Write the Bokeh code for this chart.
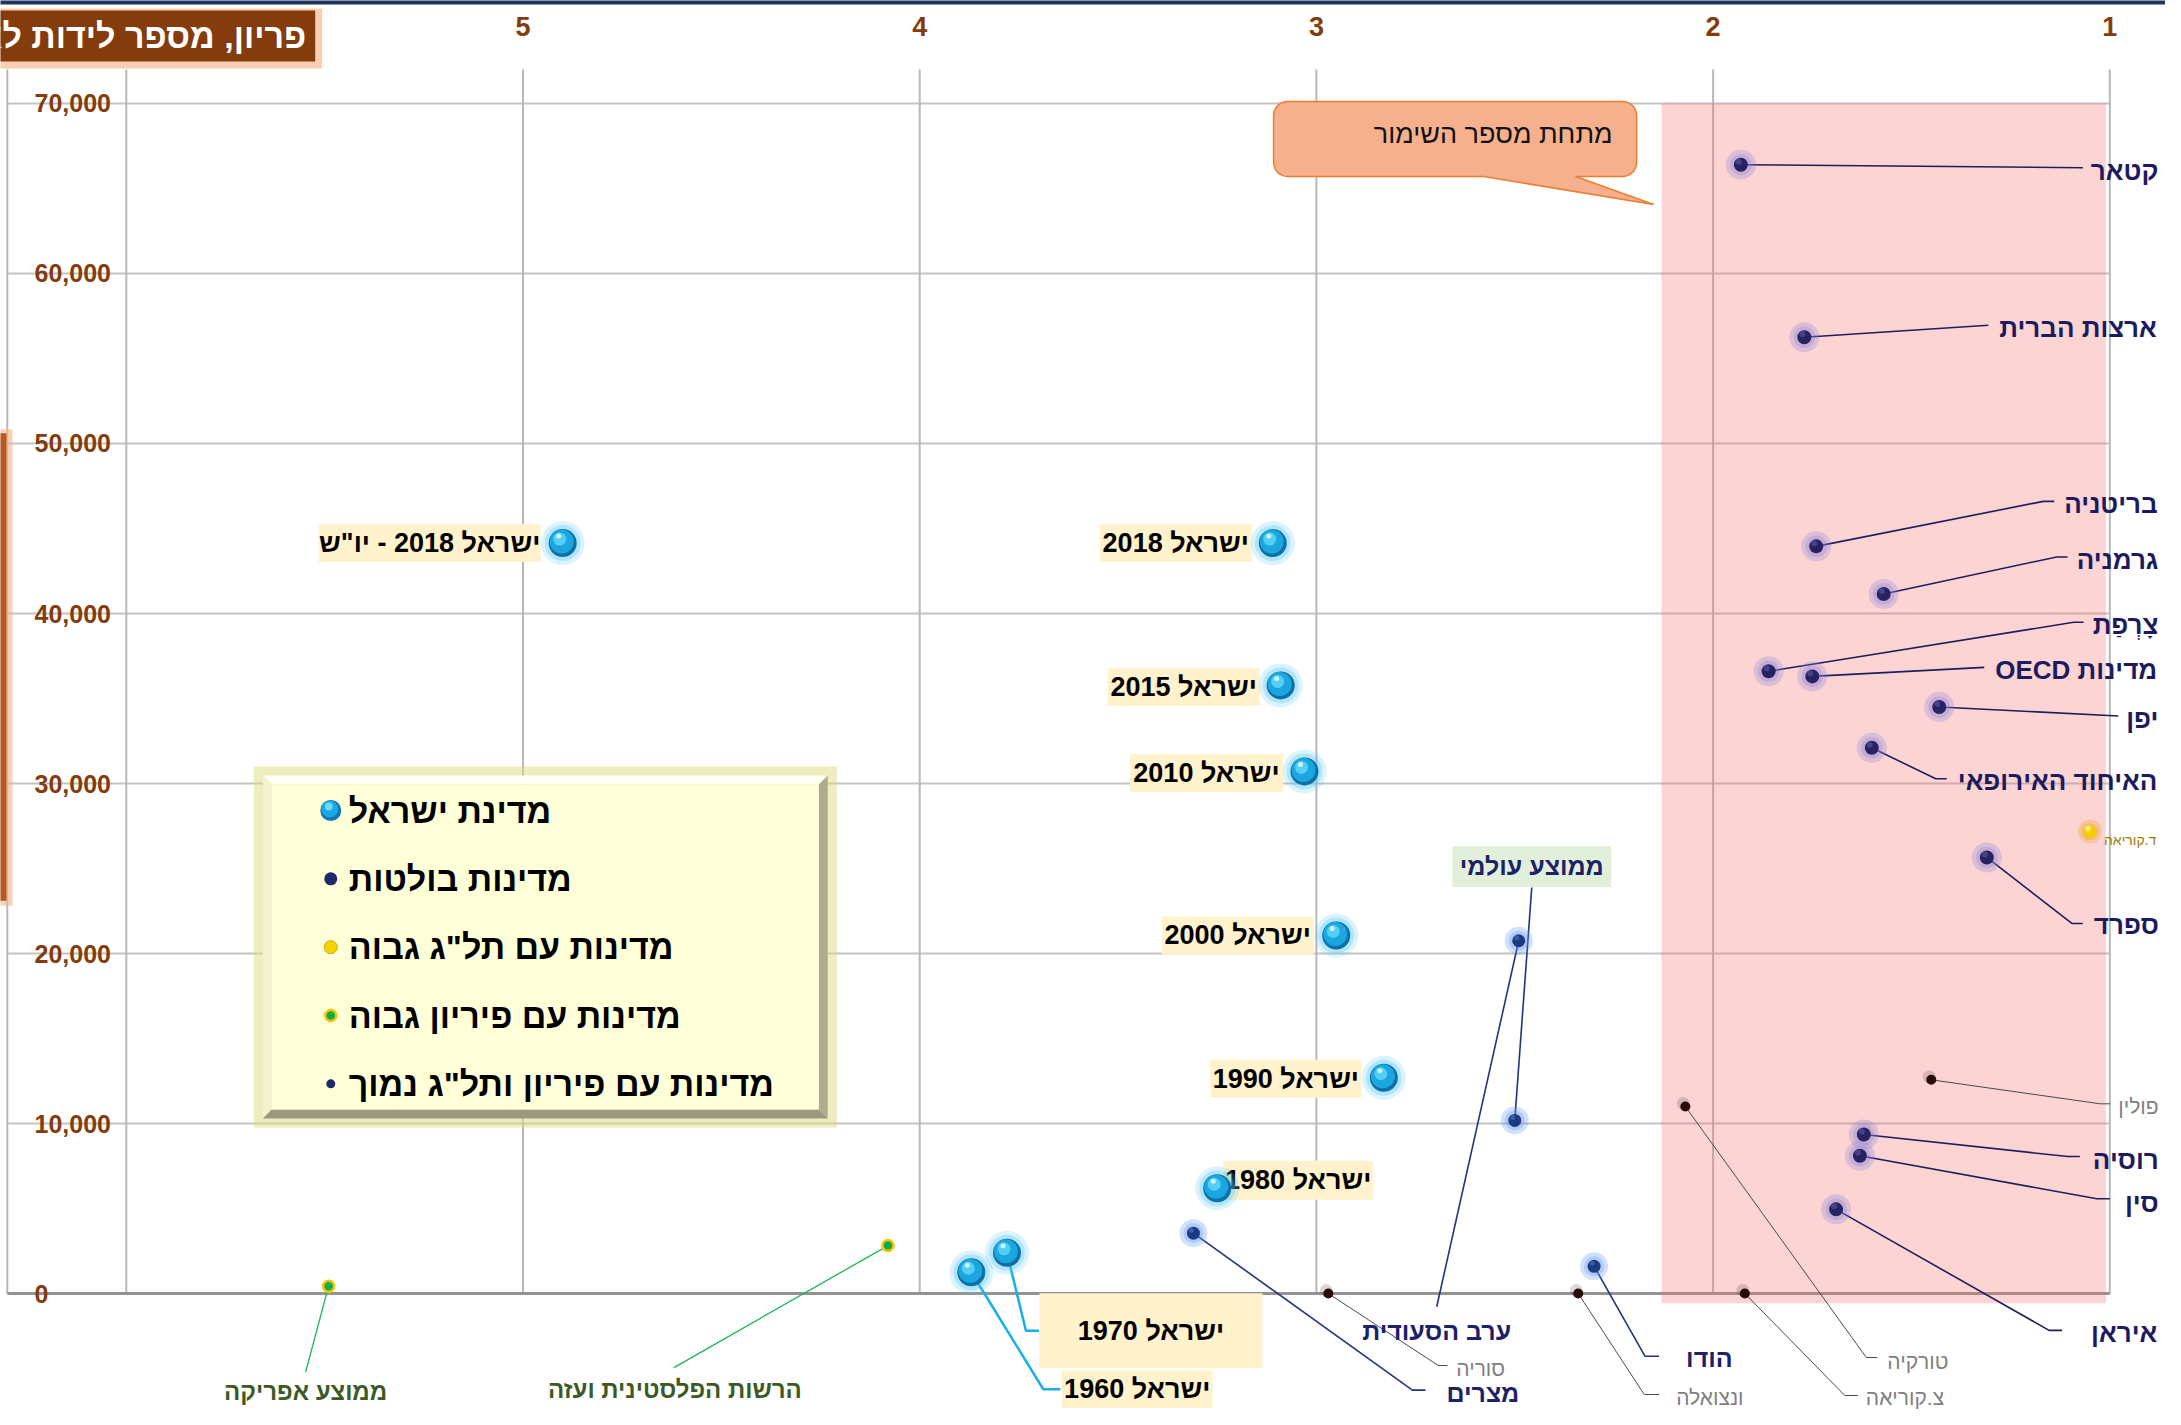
import numpy as np
from bokeh.plotting import figure
from bokeh.models import Range1d
from bokeh.embed import file_html
from bokeh.resources import INLINE
from bokeh.core.properties import value

# ---------------- data ----------------
x_tick_values = [5, 4, 3, 2, 1]
grid_x_values = [6, 5, 4, 3, 2, 1]
y_tick_values = [0, 10000, 20000, 30000, 40000, 50000, 60000, 70000]
grid_y_top = 72000

israel_labels = ['ישראל 2018 - יו"ש', "ישראל 2018", "ישראל 2015", "ישראל 2010",
                 "ישראל 2000", "ישראל 1990", "ישראל 1980", "ישראל 1970", "ישראל 1960"]
israel_fertility = [4.90, 3.11, 3.09, 3.03, 2.95, 2.83, 3.25, 3.78, 3.87]
israel_gdp = [44140, 44140, 35770, 30710, 21060, 12690, 6190, 2390, 1250]

major_names = ["קטאר", "ארצות הברית", "בריטניה", "גרמניה", "צָרְפַת", "מדינות OECD",
               "יפן", "האיחוד האירופאי", "ספרד", "רוסיה", "סין", "איראן"]
major_fertility = [1.93, 1.77, 1.74, 1.57, 1.86, 1.75, 1.43, 1.60, 1.31, 1.62, 1.63, 1.69]
major_gdp = [66400, 56250, 43950, 41150, 36600, 36300, 34500, 32100, 25650, 9350, 8100, 4950]

region_names = ["מצרים", "ערב הסעודית", "ממוצע עולמי", "הודו"]
region_fertility = [3.31, 2.49, 2.50, 2.30]
region_gdp = [3550, 20750, 10180, 1600]

low_names = ["פולין", "טורקיה", "צ.קוריאה", "ונצואלה", "סוריה"]
low_fertility = [1.45, 2.07, 1.92, 2.34, 2.97]
low_gdp = [12570, 11000, 0, 0, 0]

rich_names = ["ד.קוריאה"]
rich_fertility = [1.05]
rich_gdp = [27170]

highf_names = ["ממוצע אפריקה", "הרשות הפלסטינית ועזה"]
highf_fertility = [5.49, 4.08]
highf_gdp = [430, 2820]

legend_labels = ["מדינת ישראל", "מדינות בולטות", 'מדינות עם תל"ג גבוה',
                 "מדינות עם פיריון גבוה", 'מדינות עם פיריון ותל"ג נמוך']

title_text = "פריון, מספר לידות לאישה"
callout_text = "מתחת מספר השימור"
below_replacement_band = (2.13, 1.01, -570, 70000)   # fertility from, to ; gdp from, to

# ---------------- layout ----------------
W, H = 2165, 1409
X_LEFT, X_RIGHT = 6.31712, 0.85959
Y_BOTTOM, Y_TOP = -6823.5, 76058.8
FRAME_LEFT = 6.30
SX = W / (X_LEFT - X_RIGHT)
SY = H / (Y_TOP - Y_BOTTOM)


def sx(x, d):          # move d screen px to the right
    return x - d / SX


def sy(y, d):          # move d screen px down
    return y - d / SY


def rtl(s):
    return "\u202B" + s + "\u202C"


FONT = value("Liberation Sans")

MAJOR_LAYOUT = {
    "קטאר": ([(342, 3)], (350, 6)),
    "ארצות הברית": ([(184, -12)], (195, -9)),
    "בריטניה": ([(227, -45), (238, -45)], (248, -42)),
    "גרמניה": ([(173, -37), (184, -37)], (193, -34)),
    "צָרְפַת": ([(305, -49), (315, -49)], (324, -46)),
    "מדינות OECD": ([(172, -9)], (183, -6)),
    "יפן": ([(179, 9)], (187, 12)),
    "האיחוד האירופאי": ([(64, 31), (75, 31)], (86, 33)),
    "ספרד": ([(85, 66), (96, 66)], (107, 68)),
    "רוסיה": ([(204, 22), (216, 22)], (229, 25)),
    "סין": ([(237, 43), (250, 43)], (265, 47)),
    "איראן": ([(213, 121), (226, 121)], (255, 124)),
}
REGION_LAYOUT = {
    "מצרים": ([(219, 157), (232, 157)], (253, 160), "left"),
    "ערב הסעודית": ([(-82, 366)], (-82, 390), "center"),
    "ממוצע עולמי": ([(17, -233)], (17, -254), "center"),
    "הודו": ([(51, 90), (65, 90)], (92, 92), "left"),
}
LOW_LAYOUT = {
    "פולין": ([(169, 24), (179, 24)], (187, 27)),
    "טורקיה": ([(181, 251), (192, 251)], (202, 255)),
    "צ.קוריאה": ([(100, 102), (113, 102)], (121, 104)),
    "ונצואלה": ([(66, 101), (81, 101)], (98, 104)),
    "סוריה": ([(110, 72), (119, 72)], (128, 75)),
}
RICH_LAYOUT = {"ד.קוריאה": (14, 8)}
HIGHF_LAYOUT = {
    "ממוצע אפריקה": ([(-23, 86)], (-23, 105)),
    "הרשות הפלסטינית ועזה": ([(-214, 122)], (-213, 144)),
}
ISRAEL_LAYOUT = [
    ((-133, 0), 222, 38, None),
    ((-97, 0), 152, 38, None),
    ((-97, 1.5), 152, 38, None),
    ((-98, 1.5), 153, 38, None),
    ((-98.5, 0), 152, 38, None),
    ((-98, 1), 151, 38, None),
    ((81, -8), 150, 39, None),
    ((144, 78), 223, 75, [(19, 78), (32, 78)]),
    ((166, 117), 151, 38, [(72, 117), (89, 117)]),
]

p = figure(width=W, height=H, x_range=Range1d(X_LEFT, X_RIGHT), y_range=Range1d(Y_BOTTOM, Y_TOP),
           output_backend="svg", toolbar_location=None, x_axis_location=None, y_axis_location=None,
           min_border=0, outline_line_color=None, background_fill_color="white",
           border_fill_color="white")
p.grid.visible = False

# top navy rule
p.quad(left=[X_LEFT + 0.1], right=[X_RIGHT - 0.1], top=[Y_TOP + 500], bottom=[sy(Y_TOP, 4)],
       fill_color="#1F3560", line_color=None)

# ---------------- grid ----------------
hy = [v for v in y_tick_values if v != 0]
p.segment(x0=[FRAME_LEFT] * len(hy), x1=[1] * len(hy), y0=hy, y1=hy, line_color="#C3C3C3", line_width=2)
p.segment(x0=grid_x_values + [FRAME_LEFT], x1=grid_x_values + [FRAME_LEFT],
          y0=[0] * (len(grid_x_values) + 1), y1=[grid_y_top] * (len(grid_x_values) + 1),
          line_color="#B8B8B8", line_width=2)
p.segment(x0=[FRAME_LEFT], x1=[1], y0=[0], y1=[0], line_color="#939393", line_width=3)

# shaded band (below replacement fertility)
bl, br, bb, bt = below_replacement_band
p.quad(left=[bl], right=[br], bottom=[bb], top=[bt], fill_color="#F47272", fill_alpha=0.3, line_color=None)

# left clipped orange strip (y-axis title box edge)
p.quad(left=[X_LEFT + 0.1], right=[sx(X_LEFT, 12)], top=[sy(50600, -4)], bottom=[sy(23100, 5)],
       fill_color="#F0B48A", fill_alpha=0.6, line_color=None)
p.quad(left=[X_LEFT + 0.1], right=[sx(X_LEFT, 6)], top=[50600], bottom=[23100],
       fill_color="#B9581E", line_color=None)

# ---------------- ticks ----------------
p.text(x=[sx(X_LEFT, 34)] * len(y_tick_values), y=y_tick_values,
       text=[f"{v:,}" for v in y_tick_values], text_font=FONT, text_font_style="bold",
       text_font_size="25px", text_color="#843C0C", text_align="left", text_baseline="middle")
p.text(x=x_tick_values, y=[sy(Y_TOP, 26)] * len(x_tick_values), text=[str(v) for v in x_tick_values],
       text_font=FONT, text_font_style="bold", text_font_size="27px", text_color="#843C0C",
       text_align="center", text_baseline="middle")

# ---------------- title box ----------------
t_right, t_top, t_bot = 5.5238, 75470, 72470
p.quad(left=[X_LEFT + 0.2], right=[sx(t_right, 7)], top=[sy(t_top, -2)], bottom=[sy(t_bot, 7)],
       fill_color="#F2A872", fill_alpha=0.55, line_color=None)
p.quad(left=[X_LEFT + 0.2], right=[t_right], top=[t_top], bottom=[t_bot],
       fill_color="#843C0C", line_color=None)
p.text(x=[sx(t_right, -9)], y=[(t_top + t_bot) / 2], text=[rtl(title_text)], text_font=FONT,
       text_font_style="bold", text_font_size="34px", text_color="white", text_align="right",
       text_baseline="middle")

# ---------------- callout ----------------
tip_x, tip_y = 2.150, 64060
bx0, bx1, by0, by1, r = -380, -17, -103, -28, 14
pts = []
for cx, cy, a0, a1 in [(bx1 - r, by0 + r, -90, 0), (bx1 - r, by1 - r, 0, 90)]:
    for a in np.linspace(a0, a1, 8):
        pts.append((cx + r * np.cos(np.radians(a)), cy + r * np.sin(np.radians(a))))
pts += [(-78, by1), (0, 0), (-170, by1)]
for cx, cy, a0, a1 in [(bx0 + r, by1 - r, 90, 180), (bx0 + r, by0 + r, 180, 270)]:
    for a in np.linspace(a0, a1, 8):
        pts.append((cx + r * np.cos(np.radians(a)), cy + r * np.sin(np.radians(a))))
p.patch(x=[sx(tip_x, q[0]) for q in pts], y=[sy(tip_y, q[1]) for q in pts],
        fill_color="#F5B08D", line_color="#ED7D31", line_width=1.5)
p.text(x=[sx(tip_x, -41)], y=[sy(tip_y, -70)], text=[rtl(callout_text)], text_font=FONT,
       text_font_size="27px", text_color="#111111", text_align="right", text_baseline="middle")

# ---------------- legend ----------------
LX, LY = 5.656, 30470
LWd, LHt, bev = 565, 343, 9


def lpoly(points):
    return [sx(LX, q[0]) for q in points], [sy(LY, q[1]) for q in points]


gx, gy = lpoly([(-9, -9), (LWd + 9, -9), (LWd + 9, LHt + 9), (-9, LHt + 9)])
p.patch(gx, gy, fill_color="#E0DA7E", fill_alpha=0.5, line_color=None)
for poly, col in [([(0, 0), (LWd, 0), (LWd - bev, bev), (bev, bev)], "#FFFFF4"),
                  ([(0, 0), (bev, bev), (bev, LHt - bev), (0, LHt)], "#F3F1D0"),
                  ([(LWd, 0), (LWd, LHt), (LWd - bev, LHt - bev), (LWd - bev, bev)], "#AEAC8E"),
                  ([(0, LHt), (LWd, LHt), (LWd - bev, LHt - bev), (bev, LHt - bev)], "#9C9A7E"),
                  ([(bev, bev), (LWd - bev, bev), (LWd - bev, LHt - bev), (bev, LHt - bev)], "#FFFFD8")]:
    px_, py_ = lpoly(poly)
    p.patch(px_, py_, fill_color=col, line_color=None)

row_y = [35, 103.3, 171.7, 240, 308.3]
mk_x = sx(LX, 68)
ly = [sy(LY, d) for d in row_y]
p.text(x=[sx(LX, 86)] * 5, y=ly, text=[rtl(t) for t in legend_labels], text_font=FONT,
       text_font_style="bold", text_font_size="34px", text_color="black", text_align="left",
       text_baseline="middle")
# legend markers
p.scatter(x=[mk_x], y=[ly[0]], size=21, fill_color="#0E78B0", line_color=None)
p.scatter(x=[sx(mk_x, -1)], y=[sy(ly[0], -1.5)], size=17, fill_color="#1CA8E2", line_color=None)
p.scatter(x=[sx(mk_x, -2)], y=[sy(ly[0], -4)], size=8, fill_color="#6ADAF8", line_color=None)
p.scatter(x=[mk_x], y=[ly[1]], size=13, fill_color="#1C2A66", line_color=None)
p.scatter(x=[mk_x], y=[ly[2]], size=13, fill_color="#F2D500", line_color="#C9A800", line_width=1)
p.scatter(x=[mk_x], y=[ly[3]], size=11, fill_color="#00B050", line_color="#FFC000", line_width=2.5)
p.scatter(x=[mk_x], y=[ly[4]], size=9, fill_color="#1C2A66", line_color=None)


# ---------------- leaders / labels helpers ----------------
def paths(xs, ys, names, getter):
    XS, YS = [], []
    for x, y, n in zip(xs, ys, names):
        path = getter(n)
        XS.append([x] + [sx(x, d[0]) for d in path])
        YS.append([y] + [sy(y, d[1]) for d in path])
    return XS, YS


def glow_dots(xs, ys, core, size, halo, halo_size, halo_alpha, hl=None, hl_size=0):
    p.scatter(x=xs, y=ys, size=halo_size, fill_color=halo, fill_alpha=halo_alpha, line_color=None)
    p.scatter(x=xs, y=ys, size=halo_size * 0.72, fill_color=halo, fill_alpha=halo_alpha, line_color=None)
    p.scatter(x=xs, y=ys, size=size, fill_color=core, line_color=None)
    if hl:
        p.scatter(x=[sx(x, -2) for x in xs], y=[sy(y, -3) for y in ys], size=hl_size,
                  fill_color=hl, fill_alpha=0.8, line_color=None)


# major countries
XS, YS = paths(major_fertility, major_gdp, major_names, lambda n: MAJOR_LAYOUT[n][0])
p.multi_line(XS, YS, line_color="#1E1E5C", line_width=1.6)
# region / averages
XS, YS = paths(region_fertility, region_gdp, region_names, lambda n: REGION_LAYOUT[n][0])
p.multi_line(XS, YS, line_color="#1F3580", line_width=1.6)
# low
XS, YS = paths(low_fertility, low_gdp, low_names, lambda n: LOW_LAYOUT[n][0])
p.multi_line(XS, YS, line_color="#4A4A4A", line_width=1)
# high fertility
XS, YS = paths(highf_fertility, highf_gdp, highf_names, lambda n: HIGHF_LAYOUT[n][0])
p.multi_line(XS, YS, line_color="#1DB45C", line_width=1.3)
# israel leaders
IX, IY = [], []
for x, y, lay in zip(israel_fertility, israel_gdp, ISRAEL_LAYOUT):
    if lay[3]:
        IX.append([x] + [sx(x, d[0]) for d in lay[3]])
        IY.append([y] + [sy(y, d[1]) for d in lay[3]])
p.multi_line(IX, IY, line_color="#18B0E8", line_width=2.5)

# label texts
p.text(x=[sx(x, MAJOR_LAYOUT[n][1][0]) for x, n in zip(major_fertility, major_names)],
       y=[sy(y, MAJOR_LAYOUT[n][1][1]) for y, n in zip(major_gdp, major_names)],
       text=[rtl(n) for n in major_names], text_font=FONT, text_font_style="bold",
       text_font_size="26px", text_color="#1B1B5E", text_align="left", text_baseline="middle")

wa = region_names.index("ממוצע עולמי")
p.rect(x=[sx(region_fertility[wa], 17)], y=[sy(region_gdp[wa], -254)], width=159, height=41,
       width_units="screen", height_units="screen", fill_color="#E2EFDA", line_color=None)
for align in ["left", "center"]:
    sel = [i for i, n in enumerate(region_names) if REGION_LAYOUT[n][2] == align]
    p.text(x=[sx(region_fertility[i], REGION_LAYOUT[region_names[i]][1][0]) for i in sel],
           y=[sy(region_gdp[i], REGION_LAYOUT[region_names[i]][1][1]) for i in sel],
           text=[rtl(region_names[i]) for i in sel], text_font=FONT, text_font_style="bold",
           text_font_size="25px", text_color="#1B2366", text_align=align, text_baseline="middle")

p.text(x=[sx(x, LOW_LAYOUT[n][1][0]) for x, n in zip(low_fertility, low_names)],
       y=[sy(y, LOW_LAYOUT[n][1][1]) for y, n in zip(low_gdp, low_names)],
       text=[rtl(n) for n in low_names], text_font=FONT, text_font_size="21px",
       text_color="#7F7F7F", text_align="left", text_baseline="middle")

p.text(x=[sx(x, RICH_LAYOUT[n][0]) for x, n in zip(rich_fertility, rich_names)],
       y=[sy(y, RICH_LAYOUT[n][1]) for y, n in zip(rich_gdp, rich_names)],
       text=[rtl(n) for n in rich_names], text_font=FONT, text_font_size="14px",
       text_color="#9E7D00", text_align="left", text_baseline="middle")

p.text(x=[sx(x, HIGHF_LAYOUT[n][1][0]) for x, n in zip(highf_fertility, highf_names)],
       y=[sy(y, HIGHF_LAYOUT[n][1][1]) for y, n in zip(highf_gdp, highf_names)],
       text=[rtl(n) for n in highf_names], text_font=FONT, text_font_style="bold",
       text_font_size="24px", text_color="#3B5A26", text_align="center", text_baseline="middle")

# israel label boxes
bx = [sx(x, lay[0][0]) for x, lay in zip(israel_fertility, ISRAEL_LAYOUT)]
by = [sy(y, lay[0][1]) for y, lay in zip(israel_gdp, ISRAEL_LAYOUT)]
p.rect(x=bx, y=by, width=[lay[1] for lay in ISRAEL_LAYOUT], height=[lay[2] for lay in ISRAEL_LAYOUT],
       width_units="screen", height_units="screen", fill_color="#FFF2CC", line_color=None)
p.text(x=bx, y=by, text=[rtl(t) for t in israel_labels], text_font=FONT, text_font_style="bold",
       text_font_size="27px", text_color="black", text_align="center", text_baseline="middle")

# ---------------- points ----------------
glow_dots(major_fertility, major_gdp, "#272361", 14, "#8A82DA", 30, 0.28, "#4E4A95", 6)
glow_dots(region_fertility, region_gdp, "#1B3A80", 13, "#5A94F2", 28, 0.28, "#4466B0", 5)
p.scatter(x=[sx(x, -2) for x in low_fertility], y=[sy(y, -3) for y in low_gdp], size=13,
          fill_color="black", fill_alpha=0.15, line_color=None)
p.scatter(x=low_fertility, y=low_gdp, size=10, fill_color="#2A0A0A", line_color=None)
glow_dots(rich_fertility, rich_gdp, "#F4CF00", 13, "#F0A020", 24, 0.3, "#FFF07A", 6)
p.scatter(x=highf_fertility, y=highf_gdp, size=11, fill_color="#00B050", line_color="#FFC000",
          line_width=2.5)

# israel spheres
p.scatter(x=israel_fertility, y=israel_gdp, size=44, fill_color="#5BC8F5", fill_alpha=0.22, line_color=None)
p.scatter(x=israel_fertility, y=israel_gdp, size=36, fill_color="#5BC8F5", fill_alpha=0.32, line_color=None)
p.scatter(x=israel_fertility, y=israel_gdp, size=28, fill_color="#0D70A6", line_color=None)
p.scatter(x=[sx(x, -1) for x in israel_fertility], y=[sy(y, -1.5) for y in israel_gdp], size=24,
          fill_color="#1BA6E0", line_color=None)
p.scatter(x=[sx(x, -3) for x in israel_fertility], y=[sy(y, -4) for y in israel_gdp], size=13,
          fill_color="#5AD4F7", fill_alpha=0.9, line_color=None)
p.scatter(x=[sx(x, -4) for x in israel_fertility], y=[sy(y, -7) for y in israel_gdp], size=5,
          fill_color="#DDF8FF", fill_alpha=0.9, line_color=None)

open("out.html", "w").write(file_html(p, INLINE))
